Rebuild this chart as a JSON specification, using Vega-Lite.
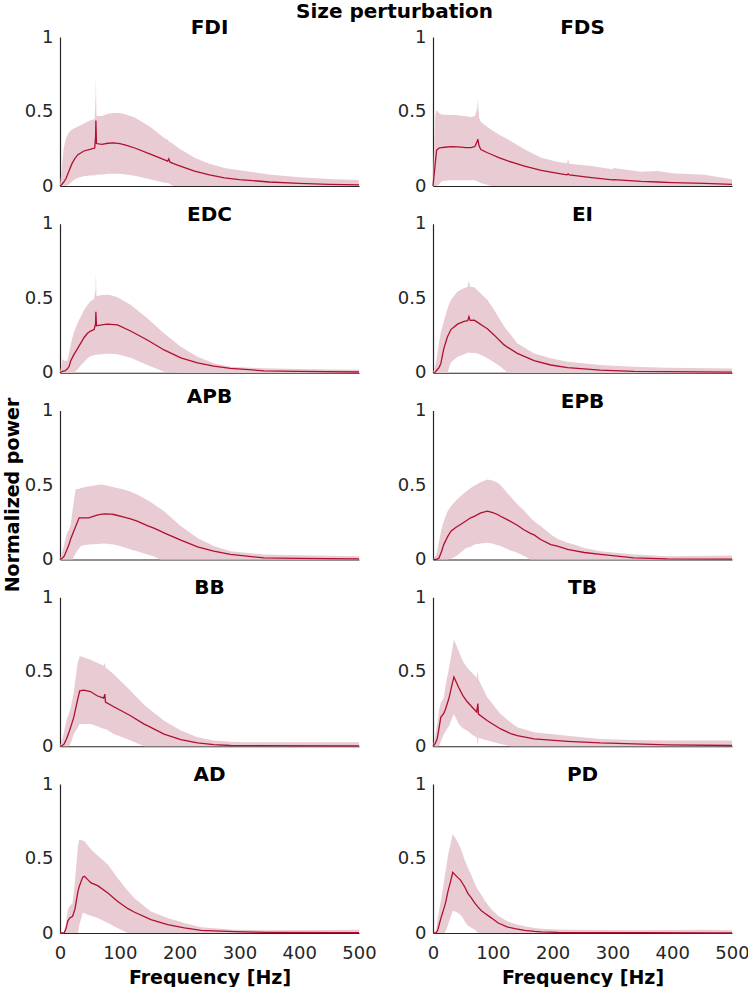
{
"$schema": "https://vega.github.io/schema/vega-lite/v6.json",
"padding": {"left": 3, "top": 2, "right": 2, "bottom": 0},
"background": "white",
"title": {"text": "Size perturbation", "fontSize": 20, "font": "DejaVu Sans", "fontWeight": "bold", "color": "#000000", "anchor": "start", "frame": "group", "dx": 236, "offset": -4},
"config": {
  "view": {"stroke": null},
  "axis": {"domainColor": "#262626", "domainWidth": 1.2, "ticks": false, "grid": false, "labelFont": "DejaVu Sans", "labelFontSize": 18, "labelColor": "#262626", "titleFont": "DejaVu Sans", "titleFontSize": 19, "titleFontWeight": "bold", "titleColor": "#000000"},
  "axisX": {"labelPadding": 11, "titlePadding": 6, "labelFlush": false},
  "axisY": {"labelPadding": 7, "titlePadding": 2},
  "title": {"font": "DejaVu Sans", "fontSize": 20, "fontWeight": "bold", "color": "#000000", "frame": "group", "anchor": "middle", "offset": -10}
},
"datasets": {"d": [
{"m":"FDI","f":0,"lo":0,"mu":0,"hi":0},
{"m":"FDI","f":3,"lo":0,"mu":0.01,"hi":0.12},
{"m":"FDI","f":6,"lo":0,"mu":0.025,"hi":0.25},
{"m":"FDI","f":10,"lo":0,"mu":0.05,"hi":0.32},
{"m":"FDI","f":15,"lo":0.01,"mu":0.1,"hi":0.36},
{"m":"FDI","f":20,"lo":0.03,"mu":0.15,"hi":0.38},
{"m":"FDI","f":25,"lo":0.045,"mu":0.185,"hi":0.39},
{"m":"FDI","f":30,"lo":0.055,"mu":0.21,"hi":0.4},
{"m":"FDI","f":40,"lo":0.065,"mu":0.235,"hi":0.42},
{"m":"FDI","f":50,"lo":0.07,"mu":0.245,"hi":0.44},
{"m":"FDI","f":58,"lo":0.072,"mu":0.255,"hi":0.45},
{"m":"FDI","f":59.5,"lo":0.07,"mu":0.33,"hi":0.6},
{"m":"FDI","f":60,"lo":0.07,"mu":0.44,"hi":0.73},
{"m":"FDI","f":61,"lo":0.075,"mu":0.285,"hi":0.47},
{"m":"FDI","f":70,"lo":0.078,"mu":0.28,"hi":0.47},
{"m":"FDI","f":80,"lo":0.082,"mu":0.287,"hi":0.485},
{"m":"FDI","f":90,"lo":0.083,"mu":0.29,"hi":0.49},
{"m":"FDI","f":100,"lo":0.082,"mu":0.285,"hi":0.49},
{"m":"FDI","f":110,"lo":0.078,"mu":0.275,"hi":0.48},
{"m":"FDI","f":125,"lo":0.068,"mu":0.255,"hi":0.46},
{"m":"FDI","f":150,"lo":0.045,"mu":0.215,"hi":0.4},
{"m":"FDI","f":175,"lo":0.022,"mu":0.175,"hi":0.32},
{"m":"FDI","f":180,"lo":0.02,"mu":0.167,"hi":0.31},
{"m":"FDI","f":182,"lo":0.018,"mu":0.182,"hi":0.3},
{"m":"FDI","f":184,"lo":0.012,"mu":0.16,"hi":0.295},
{"m":"FDI","f":190,"lo":0,"mu":0.15,"hi":0.28},
{"m":"FDI","f":200,"lo":0,"mu":0.135,"hi":0.25},
{"m":"FDI","f":225,"lo":0,"mu":0.1,"hi":0.19},
{"m":"FDI","f":250,"lo":0,"mu":0.075,"hi":0.15},
{"m":"FDI","f":275,"lo":0,"mu":0.055,"hi":0.12},
{"m":"FDI","f":300,"lo":0,"mu":0.043,"hi":0.105},
{"m":"FDI","f":350,"lo":0,"mu":0.027,"hi":0.078},
{"m":"FDI","f":400,"lo":0,"mu":0.017,"hi":0.058},
{"m":"FDI","f":450,"lo":0,"mu":0.011,"hi":0.047},
{"m":"FDI","f":500,"lo":0,"mu":0.007,"hi":0.04},

{"m":"FDS","f":0,"lo":0,"mu":0,"hi":0},
{"m":"FDS","f":2,"lo":0,"mu":0.08,"hi":0.3},
{"m":"FDS","f":4,"lo":0,"mu":0.16,"hi":0.48},
{"m":"FDS","f":6,"lo":0,"mu":0.24,"hi":0.51},
{"m":"FDS","f":10,"lo":0.01,"mu":0.255,"hi":0.49},
{"m":"FDS","f":14,"lo":0.03,"mu":0.258,"hi":0.48},
{"m":"FDS","f":20,"lo":0.035,"mu":0.26,"hi":0.478},
{"m":"FDS","f":30,"lo":0.038,"mu":0.264,"hi":0.477},
{"m":"FDS","f":42,"lo":0.038,"mu":0.262,"hi":0.475},
{"m":"FDS","f":55,"lo":0.038,"mu":0.258,"hi":0.468},
{"m":"FDS","f":64,"lo":0.038,"mu":0.257,"hi":0.463},
{"m":"FDS","f":70,"lo":0.038,"mu":0.265,"hi":0.47},
{"m":"FDS","f":74,"lo":0.03,"mu":0.3,"hi":0.52},
{"m":"FDS","f":75,"lo":0.03,"mu":0.315,"hi":0.59},
{"m":"FDS","f":77,"lo":0.025,"mu":0.27,"hi":0.46},
{"m":"FDS","f":80,"lo":0.02,"mu":0.245,"hi":0.43},
{"m":"FDS","f":90,"lo":0.008,"mu":0.225,"hi":0.4},
{"m":"FDS","f":97,"lo":0,"mu":0.213,"hi":0.38},
{"m":"FDS","f":110,"lo":0,"mu":0.19,"hi":0.345},
{"m":"FDS","f":125,"lo":0,"mu":0.168,"hi":0.313},
{"m":"FDS","f":153,"lo":0,"mu":0.134,"hi":0.246},
{"m":"FDS","f":181,"lo":0,"mu":0.105,"hi":0.19},
{"m":"FDS","f":209,"lo":0,"mu":0.085,"hi":0.161},
{"m":"FDS","f":224,"lo":0,"mu":0.075,"hi":0.152},
{"m":"FDS","f":226,"lo":0,"mu":0.082,"hi":0.18},
{"m":"FDS","f":228,"lo":0,"mu":0.074,"hi":0.15},
{"m":"FDS","f":265,"lo":0,"mu":0.056,"hi":0.134},
{"m":"FDS","f":300,"lo":0,"mu":0.041,"hi":0.113},
{"m":"FDS","f":302,"lo":0,"mu":0.043,"hi":0.12},
{"m":"FDS","f":348,"lo":0,"mu":0.031,"hi":0.096},
{"m":"FDS","f":376,"lo":0,"mu":0.027,"hi":0.1},
{"m":"FDS","f":400,"lo":0,"mu":0.023,"hi":0.085},
{"m":"FDS","f":454,"lo":0,"mu":0.018,"hi":0.075},
{"m":"FDS","f":500,"lo":0,"mu":0.011,"hi":0.045},

{"m":"EDC","f":0,"lo":0,"mu":0,"hi":0},
{"m":"EDC","f":4,"lo":0,"mu":0.01,"hi":0.09},
{"m":"EDC","f":8,"lo":0,"mu":0.012,"hi":0.08},
{"m":"EDC","f":12,"lo":0,"mu":0.025,"hi":0.08},
{"m":"EDC","f":15,"lo":0,"mu":0.04,"hi":0.13},
{"m":"EDC","f":18,"lo":0,"mu":0.08,"hi":0.19},
{"m":"EDC","f":23,"lo":0,"mu":0.12,"hi":0.27},
{"m":"EDC","f":29,"lo":0.02,"mu":0.16,"hi":0.33},
{"m":"EDC","f":35,"lo":0.05,"mu":0.2,"hi":0.38},
{"m":"EDC","f":40,"lo":0.07,"mu":0.235,"hi":0.42},
{"m":"EDC","f":46,"lo":0.097,"mu":0.265,"hi":0.455},
{"m":"EDC","f":51,"lo":0.11,"mu":0.28,"hi":0.48},
{"m":"EDC","f":57,"lo":0.118,"mu":0.29,"hi":0.495},
{"m":"EDC","f":59.5,"lo":0.12,"mu":0.33,"hi":0.56},
{"m":"EDC","f":60,"lo":0.12,"mu":0.41,"hi":0.68},
{"m":"EDC","f":61,"lo":0.12,"mu":0.315,"hi":0.515},
{"m":"EDC","f":70,"lo":0.125,"mu":0.322,"hi":0.522},
{"m":"EDC","f":79,"lo":0.128,"mu":0.326,"hi":0.524},
{"m":"EDC","f":85,"lo":0.127,"mu":0.325,"hi":0.52},
{"m":"EDC","f":96,"lo":0.124,"mu":0.321,"hi":0.506},
{"m":"EDC","f":118,"lo":0.1,"mu":0.28,"hi":0.456},
{"m":"EDC","f":146,"lo":0.052,"mu":0.22,"hi":0.366},
{"m":"EDC","f":174,"lo":0.007,"mu":0.153,"hi":0.265},
{"m":"EDC","f":202,"lo":0,"mu":0.1,"hi":0.175},
{"m":"EDC","f":230,"lo":0,"mu":0.067,"hi":0.108},
{"m":"EDC","f":257,"lo":0,"mu":0.045,"hi":0.063},
{"m":"EDC","f":285,"lo":0,"mu":0.03,"hi":0.04},
{"m":"EDC","f":341,"lo":0,"mu":0.013,"hi":0.03},
{"m":"EDC","f":397,"lo":0,"mu":0.009,"hi":0.025},
{"m":"EDC","f":500,"lo":0,"mu":0.005,"hi":0.02},

{"m":"EI","f":0,"lo":0,"mu":0,"hi":0},
{"m":"EI","f":4,"lo":0,"mu":0.005,"hi":0.05},
{"m":"EI","f":7,"lo":0,"mu":0.02,"hi":0.12},
{"m":"EI","f":10,"lo":0,"mu":0.035,"hi":0.2},
{"m":"EI","f":13,"lo":0,"mu":0.06,"hi":0.27},
{"m":"EI","f":18,"lo":0,"mu":0.16,"hi":0.344},
{"m":"EI","f":24,"lo":0,"mu":0.24,"hi":0.43},
{"m":"EI","f":30,"lo":0.07,"mu":0.29,"hi":0.49},
{"m":"EI","f":41,"lo":0.108,"mu":0.326,"hi":0.546},
{"m":"EI","f":52,"lo":0.125,"mu":0.344,"hi":0.569},
{"m":"EI","f":58,"lo":0.135,"mu":0.35,"hi":0.575},
{"m":"EI","f":60,"lo":0.135,"mu":0.377,"hi":0.62},
{"m":"EI","f":62,"lo":0.135,"mu":0.352,"hi":0.578},
{"m":"EI","f":69,"lo":0.133,"mu":0.353,"hi":0.573},
{"m":"EI","f":74,"lo":0.13,"mu":0.34,"hi":0.555},
{"m":"EI","f":85,"lo":0.11,"mu":0.31,"hi":0.512},
{"m":"EI","f":91,"lo":0.097,"mu":0.295,"hi":0.49},
{"m":"EI","f":102,"lo":0.07,"mu":0.254,"hi":0.422},
{"m":"EI","f":113,"lo":0.04,"mu":0.21,"hi":0.35},
{"m":"EI","f":119,"lo":0.02,"mu":0.187,"hi":0.31},
{"m":"EI","f":125,"lo":0,"mu":0.17,"hi":0.28},
{"m":"EI","f":141,"lo":0,"mu":0.13,"hi":0.198},
{"m":"EI","f":169,"lo":0,"mu":0.081,"hi":0.13},
{"m":"EI","f":197,"lo":0,"mu":0.052,"hi":0.097},
{"m":"EI","f":225,"lo":0,"mu":0.034,"hi":0.074},
{"m":"EI","f":280,"lo":0,"mu":0.018,"hi":0.052},
{"m":"EI","f":336,"lo":0,"mu":0.009,"hi":0.04},
{"m":"EI","f":392,"lo":0,"mu":0.007,"hi":0.034},
{"m":"EI","f":500,"lo":0,"mu":0.004,"hi":0.029},

{"m":"APB","f":0,"lo":0,"mu":0,"hi":0},
{"m":"APB","f":4,"lo":0,"mu":0.01,"hi":0.056},
{"m":"APB","f":7,"lo":0,"mu":0.022,"hi":0.1},
{"m":"APB","f":11,"lo":0,"mu":0.06,"hi":0.17},
{"m":"APB","f":15,"lo":0,"mu":0.1,"hi":0.2},
{"m":"APB","f":18,"lo":0,"mu":0.14,"hi":0.235},
{"m":"APB","f":21,"lo":0,"mu":0.17,"hi":0.33},
{"m":"APB","f":26,"lo":0.04,"mu":0.22,"hi":0.47},
{"m":"APB","f":32,"lo":0.075,"mu":0.28,"hi":0.475},
{"m":"APB","f":35,"lo":0.09,"mu":0.28,"hi":0.48},
{"m":"APB","f":40,"lo":0.095,"mu":0.28,"hi":0.485},
{"m":"APB","f":48,"lo":0.1,"mu":0.28,"hi":0.49},
{"m":"APB","f":62,"lo":0.104,"mu":0.298,"hi":0.5},
{"m":"APB","f":68,"lo":0.106,"mu":0.303,"hi":0.503},
{"m":"APB","f":74,"lo":0.107,"mu":0.306,"hi":0.5},
{"m":"APB","f":85,"lo":0.103,"mu":0.304,"hi":0.49},
{"m":"APB","f":90,"lo":0.1,"mu":0.302,"hi":0.485},
{"m":"APB","f":107,"lo":0.082,"mu":0.285,"hi":0.47},
{"m":"APB","f":118,"lo":0.067,"mu":0.273,"hi":0.455},
{"m":"APB","f":129,"lo":0.055,"mu":0.258,"hi":0.436},
{"m":"APB","f":146,"lo":0.034,"mu":0.228,"hi":0.4},
{"m":"APB","f":157,"lo":0.02,"mu":0.21,"hi":0.37},
{"m":"APB","f":168,"lo":0,"mu":0.19,"hi":0.34},
{"m":"APB","f":174,"lo":0,"mu":0.179,"hi":0.324},
{"m":"APB","f":202,"lo":0,"mu":0.13,"hi":0.224},
{"m":"APB","f":230,"lo":0,"mu":0.085,"hi":0.145},
{"m":"APB","f":257,"lo":0,"mu":0.056,"hi":0.09},
{"m":"APB","f":285,"lo":0,"mu":0.034,"hi":0.056},
{"m":"APB","f":341,"lo":0,"mu":0.011,"hi":0.034},
{"m":"APB","f":397,"lo":0,"mu":0.007,"hi":0.029},
{"m":"APB","f":500,"lo":0,"mu":0.004,"hi":0.022},

{"m":"EPB","f":0,"lo":0,"mu":0,"hi":0},
{"m":"EPB","f":5,"lo":0,"mu":0,"hi":0.03},
{"m":"EPB","f":7,"lo":0,"mu":0.003,"hi":0.056},
{"m":"EPB","f":10,"lo":0,"mu":0.01,"hi":0.12},
{"m":"EPB","f":14,"lo":0,"mu":0.05,"hi":0.2},
{"m":"EPB","f":18,"lo":0,"mu":0.1,"hi":0.257},
{"m":"EPB","f":24,"lo":0,"mu":0.15,"hi":0.32},
{"m":"EPB","f":30,"lo":0.005,"mu":0.19,"hi":0.358},
{"m":"EPB","f":38,"lo":0.02,"mu":0.215,"hi":0.395},
{"m":"EPB","f":46,"lo":0.045,"mu":0.235,"hi":0.425},
{"m":"EPB","f":55,"lo":0.075,"mu":0.258,"hi":0.455},
{"m":"EPB","f":63,"lo":0.085,"mu":0.28,"hi":0.48},
{"m":"EPB","f":69,"lo":0.1,"mu":0.29,"hi":0.495},
{"m":"EPB","f":80,"lo":0.108,"mu":0.313,"hi":0.52},
{"m":"EPB","f":91,"lo":0.112,"mu":0.324,"hi":0.537},
{"m":"EPB","f":100,"lo":0.105,"mu":0.315,"hi":0.53},
{"m":"EPB","f":108,"lo":0.095,"mu":0.302,"hi":0.515},
{"m":"EPB","f":113,"lo":0.09,"mu":0.29,"hi":0.5},
{"m":"EPB","f":124,"lo":0.07,"mu":0.268,"hi":0.447},
{"m":"EPB","f":141,"lo":0.045,"mu":0.23,"hi":0.37},
{"m":"EPB","f":152,"lo":0.025,"mu":0.2,"hi":0.33},
{"m":"EPB","f":163,"lo":0,"mu":0.175,"hi":0.28},
{"m":"EPB","f":169,"lo":0,"mu":0.165,"hi":0.257},
{"m":"EPB","f":180,"lo":0,"mu":0.134,"hi":0.225},
{"m":"EPB","f":197,"lo":0,"mu":0.1,"hi":0.168},
{"m":"EPB","f":208,"lo":0,"mu":0.089,"hi":0.14},
{"m":"EPB","f":225,"lo":0,"mu":0.068,"hi":0.112},
{"m":"EPB","f":236,"lo":0,"mu":0.06,"hi":0.1},
{"m":"EPB","f":253,"lo":0,"mu":0.047,"hi":0.078},
{"m":"EPB","f":280,"lo":0,"mu":0.034,"hi":0.056},
{"m":"EPB","f":336,"lo":0,"mu":0.011,"hi":0.034},
{"m":"EPB","f":392,"lo":0,"mu":0.004,"hi":0.022},
{"m":"EPB","f":500,"lo":0,"mu":0.003,"hi":0.027},

{"m":"BB","f":0,"lo":0,"mu":0,"hi":0},
{"m":"BB","f":4,"lo":0,"mu":0.005,"hi":0.05},
{"m":"BB","f":7,"lo":0,"mu":0.016,"hi":0.1},
{"m":"BB","f":11,"lo":0,"mu":0.05,"hi":0.18},
{"m":"BB","f":15,"lo":0,"mu":0.094,"hi":0.22},
{"m":"BB","f":18,"lo":0.02,"mu":0.13,"hi":0.26},
{"m":"BB","f":23,"lo":0.08,"mu":0.194,"hi":0.36},
{"m":"BB","f":29,"lo":0.12,"mu":0.305,"hi":0.55},
{"m":"BB","f":33,"lo":0.15,"mu":0.372,"hi":0.606},
{"m":"BB","f":40,"lo":0.15,"mu":0.376,"hi":0.595},
{"m":"BB","f":51,"lo":0.15,"mu":0.367,"hi":0.58},
{"m":"BB","f":62,"lo":0.135,"mu":0.339,"hi":0.56},
{"m":"BB","f":73,"lo":0.118,"mu":0.323,"hi":0.54},
{"m":"BB","f":75,"lo":0.116,"mu":0.35,"hi":0.56},
{"m":"BB","f":76,"lo":0.115,"mu":0.296,"hi":0.53},
{"m":"BB","f":90,"lo":0.082,"mu":0.265,"hi":0.483},
{"m":"BB","f":118,"lo":0.038,"mu":0.205,"hi":0.372},
{"m":"BB","f":140,"lo":0,"mu":0.15,"hi":0.28},
{"m":"BB","f":146,"lo":0,"mu":0.138,"hi":0.26},
{"m":"BB","f":174,"lo":0,"mu":0.082,"hi":0.171},
{"m":"BB","f":202,"lo":0,"mu":0.045,"hi":0.105},
{"m":"BB","f":230,"lo":0,"mu":0.022,"hi":0.06},
{"m":"BB","f":257,"lo":0,"mu":0.011,"hi":0.038},
{"m":"BB","f":285,"lo":0,"mu":0.005,"hi":0.03},
{"m":"BB","f":313,"lo":0,"mu":0.004,"hi":0.027},
{"m":"BB","f":500,"lo":0,"mu":0.003,"hi":0.027},

{"m":"TB","f":0,"lo":0,"mu":0,"hi":0},
{"m":"TB","f":4,"lo":0,"mu":0.02,"hi":0.08},
{"m":"TB","f":7,"lo":0,"mu":0.05,"hi":0.15},
{"m":"TB","f":10,"lo":0,"mu":0.12,"hi":0.24},
{"m":"TB","f":13,"lo":0.03,"mu":0.194,"hi":0.29},
{"m":"TB","f":18,"lo":0.08,"mu":0.22,"hi":0.327},
{"m":"TB","f":21,"lo":0.1,"mu":0.25,"hi":0.41},
{"m":"TB","f":27,"lo":0.138,"mu":0.327,"hi":0.528},
{"m":"TB","f":31,"lo":0.18,"mu":0.4,"hi":0.62},
{"m":"TB","f":35,"lo":0.216,"mu":0.465,"hi":0.717},
{"m":"TB","f":43,"lo":0.15,"mu":0.394,"hi":0.64},
{"m":"TB","f":50,"lo":0.12,"mu":0.34,"hi":0.57},
{"m":"TB","f":57,"lo":0.105,"mu":0.3,"hi":0.528},
{"m":"TB","f":66,"lo":0.075,"mu":0.26,"hi":0.49},
{"m":"TB","f":73,"lo":0.06,"mu":0.23,"hi":0.46},
{"m":"TB","f":75,"lo":0.0,"mu":0.287,"hi":0.505},
{"m":"TB","f":76,"lo":0.055,"mu":0.216,"hi":0.45},
{"m":"TB","f":91,"lo":0.038,"mu":0.171,"hi":0.327},
{"m":"TB","f":113,"lo":0.015,"mu":0.116,"hi":0.216},
{"m":"TB","f":130,"lo":0,"mu":0.085,"hi":0.16},
{"m":"TB","f":141,"lo":0,"mu":0.071,"hi":0.127},
{"m":"TB","f":169,"lo":0,"mu":0.049,"hi":0.094},
{"m":"TB","f":225,"lo":0,"mu":0.033,"hi":0.071},
{"m":"TB","f":280,"lo":0,"mu":0.022,"hi":0.049},
{"m":"TB","f":336,"lo":0,"mu":0.016,"hi":0.042},
{"m":"TB","f":392,"lo":0,"mu":0.009,"hi":0.038},
{"m":"TB","f":500,"lo":0,"mu":0.005,"hi":0.038},

{"m":"AD","f":0,"lo":0,"mu":0,"hi":0},
{"m":"AD","f":7,"lo":0,"mu":0,"hi":0.005},
{"m":"AD","f":10,"lo":0,"mu":0.03,"hi":0.06},
{"m":"AD","f":13,"lo":0,"mu":0.08,"hi":0.16},
{"m":"AD","f":16,"lo":0,"mu":0.1,"hi":0.18},
{"m":"AD","f":21,"lo":0,"mu":0.112,"hi":0.2},
{"m":"AD","f":25,"lo":0,"mu":0.16,"hi":0.35},
{"m":"AD","f":30,"lo":0,"mu":0.28,"hi":0.58},
{"m":"AD","f":32,"lo":0.05,"mu":0.31,"hi":0.626},
{"m":"AD","f":38,"lo":0.134,"mu":0.375,"hi":0.62},
{"m":"AD","f":41,"lo":0.134,"mu":0.38,"hi":0.615},
{"m":"AD","f":46,"lo":0.123,"mu":0.36,"hi":0.59},
{"m":"AD","f":52,"lo":0.115,"mu":0.336,"hi":0.56},
{"m":"AD","f":63,"lo":0.1,"mu":0.318,"hi":0.52},
{"m":"AD","f":80,"lo":0.067,"mu":0.268,"hi":0.46},
{"m":"AD","f":96,"lo":0.034,"mu":0.213,"hi":0.37},
{"m":"AD","f":113,"lo":0,"mu":0.165,"hi":0.285},
{"m":"AD","f":124,"lo":0,"mu":0.141,"hi":0.235},
{"m":"AD","f":152,"lo":0,"mu":0.09,"hi":0.145},
{"m":"AD","f":180,"lo":0,"mu":0.056,"hi":0.1},
{"m":"AD","f":208,"lo":0,"mu":0.034,"hi":0.067},
{"m":"AD","f":236,"lo":0,"mu":0.018,"hi":0.038},
{"m":"AD","f":292,"lo":0,"mu":0.009,"hi":0.022},
{"m":"AD","f":347,"lo":0,"mu":0.004,"hi":0.018},
{"m":"AD","f":500,"lo":0,"mu":0.002,"hi":0.022},

{"m":"PD","f":0,"lo":0,"mu":0,"hi":0},
{"m":"PD","f":5,"lo":0,"mu":0,"hi":0.011},
{"m":"PD","f":8,"lo":0,"mu":0.02,"hi":0.1},
{"m":"PD","f":11,"lo":0,"mu":0.067,"hi":0.17},
{"m":"PD","f":14,"lo":0,"mu":0.11,"hi":0.235},
{"m":"PD","f":19.5,"lo":0,"mu":0.18,"hi":0.38},
{"m":"PD","f":22,"lo":0.02,"mu":0.22,"hi":0.436},
{"m":"PD","f":25,"lo":0.056,"mu":0.28,"hi":0.52},
{"m":"PD","f":29,"lo":0.1,"mu":0.34,"hi":0.59},
{"m":"PD","f":33,"lo":0.15,"mu":0.407,"hi":0.664},
{"m":"PD","f":37,"lo":0.145,"mu":0.39,"hi":0.64},
{"m":"PD","f":42,"lo":0.134,"mu":0.37,"hi":0.604},
{"m":"PD","f":46,"lo":0.12,"mu":0.355,"hi":0.57},
{"m":"PD","f":50,"lo":0.1,"mu":0.329,"hi":0.526},
{"m":"PD","f":53,"lo":0.078,"mu":0.31,"hi":0.49},
{"m":"PD","f":58,"lo":0.05,"mu":0.268,"hi":0.44},
{"m":"PD","f":64,"lo":0.035,"mu":0.235,"hi":0.39},
{"m":"PD","f":70,"lo":0.022,"mu":0.2,"hi":0.33},
{"m":"PD","f":75,"lo":0,"mu":0.175,"hi":0.29},
{"m":"PD","f":81,"lo":0,"mu":0.15,"hi":0.257},
{"m":"PD","f":86,"lo":0,"mu":0.134,"hi":0.22},
{"m":"PD","f":98,"lo":0,"mu":0.1,"hi":0.157},
{"m":"PD","f":109,"lo":0,"mu":0.067,"hi":0.115},
{"m":"PD","f":125,"lo":0,"mu":0.04,"hi":0.078},
{"m":"PD","f":137,"lo":0,"mu":0.029,"hi":0.06},
{"m":"PD","f":153,"lo":0,"mu":0.018,"hi":0.045},
{"m":"PD","f":170,"lo":0,"mu":0.011,"hi":0.033},
{"m":"PD","f":181,"lo":0,"mu":0.008,"hi":0.029},
{"m":"PD","f":209,"lo":0,"mu":0.004,"hi":0.024},
{"m":"PD","f":237,"lo":0,"mu":0.003,"hi":0.022},
{"m":"PD","f":348,"lo":0,"mu":0.002,"hi":0.018},
{"m":"PD","f":460,"lo":0,"mu":0.001,"hi":0.022},
{"m":"PD","f":500,"lo":0,"mu":0.001,"hi":0.018}
]},
"columns": 2,
"bounds": "flush",
"spacing": {"row": 37.75, "column": 74},
"concat": [
{"title": "FDI", "data": {"name": "d"}, "transform": [{"filter": "datum.m === 'FDI'"}], "width": 299, "height": 149,
 "encoding": {"x": {"field": "f", "type": "quantitative", "scale": {"domain": [0, 500]}, "axis": {"values": [0,100,200,300,400,500], "labels": false, "title": null}}},
 "layer": [
  {"mark": {"type": "area", "color": "#E9CCD3"}, "encoding": {"y": {"field": "lo", "type": "quantitative", "scale": {"domain": [0, 1]}, "axis": {"values": [0, 0.5, 1], "format": "~g", "title": null}}, "y2": {"field": "hi"}}},
  {"mark": {"type": "line", "color": "#B0102F", "strokeWidth": 1.3}, "encoding": {"y": {"field": "mu", "type": "quantitative", "axis": {"values": [0, 0.5, 1], "format": "~g", "title": null}}}}
 ]},
{"title": "FDS", "data": {"name": "d"}, "transform": [{"filter": "datum.m === 'FDS'"}], "width": 299, "height": 149,
 "encoding": {"x": {"field": "f", "type": "quantitative", "scale": {"domain": [0, 500]}, "axis": {"values": [0,100,200,300,400,500], "labels": false, "title": null}}},
 "layer": [
  {"mark": {"type": "area", "color": "#E9CCD3"}, "encoding": {"y": {"field": "lo", "type": "quantitative", "scale": {"domain": [0, 1]}, "axis": {"values": [0, 0.5, 1], "format": "~g", "title": null}}, "y2": {"field": "hi"}}},
  {"mark": {"type": "line", "color": "#B0102F", "strokeWidth": 1.3}, "encoding": {"y": {"field": "mu", "type": "quantitative", "axis": {"values": [0, 0.5, 1], "format": "~g", "title": null}}}}
 ]},
{"title": "EDC", "data": {"name": "d"}, "transform": [{"filter": "datum.m === 'EDC'"}], "width": 299, "height": 149,
 "encoding": {"x": {"field": "f", "type": "quantitative", "scale": {"domain": [0, 500]}, "axis": {"values": [0,100,200,300,400,500], "labels": false, "title": null}}},
 "layer": [
  {"mark": {"type": "area", "color": "#E9CCD3"}, "encoding": {"y": {"field": "lo", "type": "quantitative", "scale": {"domain": [0, 1]}, "axis": {"values": [0, 0.5, 1], "format": "~g", "title": null}}, "y2": {"field": "hi"}}},
  {"mark": {"type": "line", "color": "#B0102F", "strokeWidth": 1.3}, "encoding": {"y": {"field": "mu", "type": "quantitative", "axis": {"values": [0, 0.5, 1], "format": "~g", "title": null}}}}
 ]},
{"title": "EI", "data": {"name": "d"}, "transform": [{"filter": "datum.m === 'EI'"}], "width": 299, "height": 149,
 "encoding": {"x": {"field": "f", "type": "quantitative", "scale": {"domain": [0, 500]}, "axis": {"values": [0,100,200,300,400,500], "labels": false, "title": null}}},
 "layer": [
  {"mark": {"type": "area", "color": "#E9CCD3"}, "encoding": {"y": {"field": "lo", "type": "quantitative", "scale": {"domain": [0, 1]}, "axis": {"values": [0, 0.5, 1], "format": "~g", "title": null}}, "y2": {"field": "hi"}}},
  {"mark": {"type": "line", "color": "#B0102F", "strokeWidth": 1.3}, "encoding": {"y": {"field": "mu", "type": "quantitative", "axis": {"values": [0, 0.5, 1], "format": "~g", "title": null}}}}
 ]},
{"title": "APB", "data": {"name": "d"}, "transform": [{"filter": "datum.m === 'APB'"}], "width": 299, "height": 149,
 "encoding": {"x": {"field": "f", "type": "quantitative", "scale": {"domain": [0, 500]}, "axis": {"values": [0,100,200,300,400,500], "labels": false, "title": null}}},
 "layer": [
  {"mark": {"type": "area", "color": "#E9CCD3"}, "encoding": {"y": {"field": "lo", "type": "quantitative", "scale": {"domain": [0, 1]}, "axis": {"values": [0, 0.5, 1], "format": "~g", "title": "Normalized power", "titleY": 84}}, "y2": {"field": "hi"}}},
  {"mark": {"type": "line", "color": "#B0102F", "strokeWidth": 1.3}, "encoding": {"y": {"field": "mu", "type": "quantitative", "axis": {"values": [0, 0.5, 1], "format": "~g", "title": "Normalized power", "titleY": 84}}}}
 ]},
{"title": "EPB", "data": {"name": "d"}, "transform": [{"filter": "datum.m === 'EPB'"}], "width": 299, "height": 149,
 "encoding": {"x": {"field": "f", "type": "quantitative", "scale": {"domain": [0, 500]}, "axis": {"values": [0,100,200,300,400,500], "labels": false, "title": null}}},
 "layer": [
  {"mark": {"type": "area", "color": "#E9CCD3"}, "encoding": {"y": {"field": "lo", "type": "quantitative", "scale": {"domain": [0, 1]}, "axis": {"values": [0, 0.5, 1], "format": "~g", "title": null}}, "y2": {"field": "hi"}}},
  {"mark": {"type": "line", "color": "#B0102F", "strokeWidth": 1.3}, "encoding": {"y": {"field": "mu", "type": "quantitative", "axis": {"values": [0, 0.5, 1], "format": "~g", "title": null}}}}
 ]},
{"title": "BB", "data": {"name": "d"}, "transform": [{"filter": "datum.m === 'BB'"}], "width": 299, "height": 149,
 "encoding": {"x": {"field": "f", "type": "quantitative", "scale": {"domain": [0, 500]}, "axis": {"values": [0,100,200,300,400,500], "labels": false, "title": null}}},
 "layer": [
  {"mark": {"type": "area", "color": "#E9CCD3"}, "encoding": {"y": {"field": "lo", "type": "quantitative", "scale": {"domain": [0, 1]}, "axis": {"values": [0, 0.5, 1], "format": "~g", "title": null}}, "y2": {"field": "hi"}}},
  {"mark": {"type": "line", "color": "#B0102F", "strokeWidth": 1.3}, "encoding": {"y": {"field": "mu", "type": "quantitative", "axis": {"values": [0, 0.5, 1], "format": "~g", "title": null}}}}
 ]},
{"title": "TB", "data": {"name": "d"}, "transform": [{"filter": "datum.m === 'TB'"}], "width": 299, "height": 149,
 "encoding": {"x": {"field": "f", "type": "quantitative", "scale": {"domain": [0, 500]}, "axis": {"values": [0,100,200,300,400,500], "labels": false, "title": null}}},
 "layer": [
  {"mark": {"type": "area", "color": "#E9CCD3"}, "encoding": {"y": {"field": "lo", "type": "quantitative", "scale": {"domain": [0, 1]}, "axis": {"values": [0, 0.5, 1], "format": "~g", "title": null}}, "y2": {"field": "hi"}}},
  {"mark": {"type": "line", "color": "#B0102F", "strokeWidth": 1.3}, "encoding": {"y": {"field": "mu", "type": "quantitative", "axis": {"values": [0, 0.5, 1], "format": "~g", "title": null}}}}
 ]},
{"title": "AD", "data": {"name": "d"}, "transform": [{"filter": "datum.m === 'AD'"}], "width": 299, "height": 149,
 "encoding": {"x": {"field": "f", "type": "quantitative", "scale": {"domain": [0, 500]}, "axis": {"values": [0,100,200,300,400,500], "title": "Frequency [Hz]"}}},
 "layer": [
  {"mark": {"type": "area", "color": "#E9CCD3"}, "encoding": {"y": {"field": "lo", "type": "quantitative", "scale": {"domain": [0, 1]}, "axis": {"values": [0, 0.5, 1], "format": "~g", "title": null}}, "y2": {"field": "hi"}}},
  {"mark": {"type": "line", "color": "#B0102F", "strokeWidth": 1.3}, "encoding": {"y": {"field": "mu", "type": "quantitative", "axis": {"values": [0, 0.5, 1], "format": "~g", "title": null}}}}
 ]},
{"title": "PD", "data": {"name": "d"}, "transform": [{"filter": "datum.m === 'PD'"}], "width": 299, "height": 149,
 "encoding": {"x": {"field": "f", "type": "quantitative", "scale": {"domain": [0, 500]}, "axis": {"values": [0,100,200,300,400,500], "title": "Frequency [Hz]"}}},
 "layer": [
  {"mark": {"type": "area", "color": "#E9CCD3"}, "encoding": {"y": {"field": "lo", "type": "quantitative", "scale": {"domain": [0, 1]}, "axis": {"values": [0, 0.5, 1], "format": "~g", "title": null}}, "y2": {"field": "hi"}}},
  {"mark": {"type": "line", "color": "#B0102F", "strokeWidth": 1.3}, "encoding": {"y": {"field": "mu", "type": "quantitative", "axis": {"values": [0, 0.5, 1], "format": "~g", "title": null}}}}
 ]}
]
}
